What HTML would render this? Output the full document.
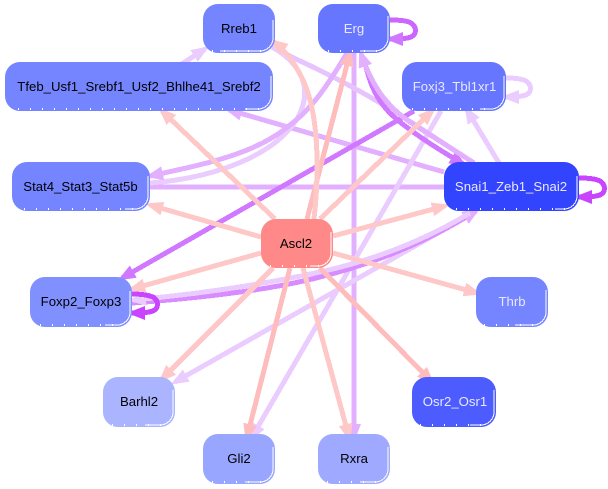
<!DOCTYPE html>
<html lang="en">
<head>
<meta charset="utf-8">
<title>Network diagram</title>
<style>
html,body{margin:0;padding:0;background:#fff;width:608px;height:489px;overflow:hidden}
svg{display:block}
text{font-family:"Liberation Sans",sans-serif;font-size:13.2px;text-anchor:middle}
.d{fill:#000}
.l{fill:#e8e8ff}
.e{fill:none;stroke-width:5;shape-rendering:crispEdges}
.w{fill:none;stroke:#fff;stroke-width:1;shape-rendering:crispEdges}
.t{fill:none;stroke:#fff;stroke-width:2;stroke-dasharray:1 11;shape-rendering:crispEdges}
</style>
</head>
<body>
<svg width="608" height="489" viewBox="0 0 608 489" xmlns="http://www.w3.org/2000/svg">
<defs>
<marker id="p1" markerUnits="userSpaceOnUse" markerWidth="20" markerHeight="16" refX="13" refY="8" orient="auto" viewBox="0 0 20 16"><polygon points="0,1 18,8 0,15" fill="#ffc8c8"/></marker>
<marker id="p2" markerUnits="userSpaceOnUse" markerWidth="20" markerHeight="16" refX="13" refY="8" orient="auto" viewBox="0 0 20 16"><polygon points="0,1 18,8 0,15" fill="#ffbcbc"/></marker>
<marker id="l1" markerUnits="userSpaceOnUse" markerWidth="20" markerHeight="16" refX="13" refY="8" orient="auto" viewBox="0 0 20 16"><polygon points="0,1 18,8 0,15" fill="#e2b0ff"/></marker>
<marker id="l2" markerUnits="userSpaceOnUse" markerWidth="20" markerHeight="16" refX="13" refY="8" orient="auto" viewBox="0 0 20 16"><polygon points="0,1 18,8 0,15" fill="#eaccff"/></marker>
<marker id="v1" markerUnits="userSpaceOnUse" markerWidth="20" markerHeight="16" refX="13" refY="8" orient="auto" viewBox="0 0 20 16"><polygon points="0,1 18,8 0,15" fill="#d078ff"/></marker>
<marker id="v2" markerUnits="userSpaceOnUse" markerWidth="20" markerHeight="16" refX="13" refY="8" orient="auto" viewBox="0 0 20 16"><polygon points="0,1 18,8 0,15" fill="#c944ff"/></marker>
</defs>

<!-- lavender / purple edges -->
<path class="e" stroke="#e2b0ff" marker-end="url(#l1)" d="M354 53V437"/>
<path class="e" stroke="#e2b0ff" d="M150 187H444"/>
<path class="e" stroke="#e2b0ff" marker-end="url(#l1)" d="M444 172L229 110"/>
<path class="e" stroke="#eaccff" marker-end="url(#l2)" d="M441 111L252 437"/>
<path class="e" stroke="#eaccff" marker-end="url(#l2)" d="M475 212L175 382"/>
<path class="e" stroke="#eaccff" marker-end="url(#l2)" d="M499 163L467 110"/>
<path class="e" stroke="#eaccff" marker-end="url(#l2)" d="M180 65L205 49"/>
<path class="e" stroke="#e8c4ff" d="M272 47C295 60 330 72 397 113L474 163"/>
<path class="e" stroke="#eaccff" d="M272 47C295 60 310 80 303 105C290 150 220 178 150 183"/>
<path class="e" stroke="#e2b0ff" marker-end="url(#l1)" d="M347 53C325 90 310 110 290 125C255 155 200 165 150 176"/>
<path class="e" stroke="#d078ff" marker-end="url(#v1)" d="M414 111L122 278"/>
<path class="e" stroke="#d078ff" marker-end="url(#v1)" d="M366 67C372 92 382 108 400 122C420 138 440 150 463 164"/>
<path class="e" stroke="#e2b0ff" marker-end="url(#l1)" d="M474 163L410 122C385 105 372 85 361 54"/>
<path class="e" stroke="#d88cff" marker-end="url(#l1)" d="M132 303C200 298 270 290 320 277C380 262 430 240 476 211"/>
<path class="e" stroke="#eaccff" marker-end="url(#l2)" d="M470 213C425 240 375 260 320 272C260 285 200 294 133 300"/>

<!-- self loops -->
<path class="e" stroke="#cc66ff" marker-end="url(#v1)" d="M390 20C400 20 408 21 411 23C417 27 417 34 411 37C406 39 398 39 390 39"/>
<path class="e" stroke="#eaccff" marker-end="url(#l2)" d="M506 78C516 78 522 79 526 81C532 85 532 92 526 95C520 97 514 97 506 97"/>
<path class="e" stroke="#c944ff" marker-end="url(#v2)" d="M579 178C590 178 596 179 600 181C606 185 606 192 600 195C594 197 588 197 579 197"/>
<path class="e" stroke="#c944ff" marker-end="url(#v2)" d="M132 294C142 294 148 295 153 297C159 301 159 308 153 311C147 313 141 313 132 313"/>

<!-- pink edges -->
<path class="e" stroke="#ffc8c8" marker-end="url(#p1)" d="M275 219L162 111"/>
<path class="e" stroke="#ffc8c8" marker-end="url(#p1)" d="M261 237L150 205"/>
<path class="e" stroke="#ffc8c8" marker-end="url(#p1)" d="M261 253L132 289"/>
<path class="e" stroke="#ffc8c8" marker-end="url(#p1)" d="M273 268L162 379"/>
<path class="e" stroke="#ffbcbc" marker-end="url(#p2)" d="M290 268L247 437"/>
<path class="e" stroke="#ffc8c8" marker-end="url(#p1)" d="M303 268L349 437"/>
<path class="e" stroke="#ffbcbc" marker-end="url(#p2)" d="M320 268L431 381"/>
<path class="e" stroke="#ffc8c8" marker-end="url(#p1)" d="M333 253L477 293"/>
<path class="e" stroke="#ffc8c8" marker-end="url(#p1)" d="M333 236L445 206"/>
<path class="e" stroke="#ffc8c8" marker-end="url(#p1)" d="M320 219L432 111"/>
<path class="e" stroke="#ffbcbc" marker-end="url(#p2)" d="M307 219L350 53"/>
<path class="e" stroke="#ffc8c8" marker-end="url(#p1)" d="M314 219C320 165 318 110 302 78C294 62 285 50 274 42"/>

<!-- nodes -->
<g>
<rect x="203" y="4" width="72" height="49" rx="15" fill="#7585ff"/>
<path class="w" d="M273 20V38A13 13 0 0 1 260 51H220"/><path class="t" d="M212 51H262"/>
<text class="d" x="239" y="33">Rreb1</text>

<rect x="318" y="4" width="72" height="49" rx="15" fill="#6676ff"/>
<path class="w" d="M388 16V38A13 13 0 0 1 375 51H360"/><path class="t" d="M328 51H378"/>
<text class="l" x="354" y="33">Erg</text>

<rect x="5" y="62" width="268" height="49" rx="15" fill="#7585ff"/>
<path class="w" d="M271 76V96A13 13 0 0 1 258 109H245"/><path class="t" d="M18 109H262"/>
<text class="d" x="139" y="91">Tfeb_Usf1_Srebf1_Usf2_Bhlhe41_Srebf2</text>

<rect x="402" y="62" width="104" height="49" rx="15" fill="#6676ff"/>
<path class="w" d="M504 76V96A13 13 0 0 1 491 109H480"/><path class="t" d="M412 109H494"/>
<text class="l" x="454.5" y="91">Foxj3_Tbl1xr1</text>

<rect x="12" y="162" width="138" height="49" rx="15" fill="#7585ff"/>
<path class="w" d="M148 176V196A13 13 0 0 1 135 209H125"/><path class="t" d="M24 209H138"/>
<text class="d" x="80.5" y="191">Stat4_Stat3_Stat5b</text>

<rect x="444" y="162" width="135" height="49" rx="15" fill="#3344ff"/>
<path class="w" d="M577 176V196A13 13 0 0 1 564 209H555"/><path class="t" d="M456 209H568"/>
<text class="l" x="511" y="191">Snai1_Zeb1_Snai2</text>

<rect x="261" y="219" width="72" height="49" rx="15" fill="#ff8888"/>
<path class="w" d="M331 232V253A13 13 0 0 1 318 266H310"/><path class="t" d="M270 266H322"/>
<text class="d" x="296" y="248">Ascl2</text>

<rect x="30" y="277" width="102" height="50" rx="15" fill="#8090ff"/>
<path class="w" d="M130 291V312A13 13 0 0 1 117 325H105"/><path class="t" d="M40 325H122"/>
<text class="d" x="81" y="306">Foxp2_Foxp3</text>

<rect x="476" y="277" width="72" height="50" rx="15" fill="#7585ff"/>
<path class="w" d="M546 290V312A13 13 0 0 1 533 325H515"/><path class="t" d="M484 325H538"/>
<text class="l" x="512" y="306">Thrb</text>

<rect x="103" y="377" width="72" height="50" rx="15" fill="#aab4ff"/>
<path class="w" d="M173 390V412A13 13 0 0 1 160 425H145"/><path class="t" d="M112 425H165"/>
<text class="d" x="139" y="406">Barhl2</text>

<rect x="412" y="377" width="84" height="50" rx="15" fill="#4d5cff"/>
<path class="w" d="M494 390V412A13 13 0 0 1 481 425H470"/><path class="t" d="M420 425H486"/>
<text class="l" x="455" y="406">Osr2_Osr1</text>

<rect x="203" y="434" width="72" height="50" rx="15" fill="#99a6ff"/>
<path class="w" d="M273 447V469A13 13 0 0 1 260 482H245"/><path class="t" d="M212 482H265"/>
<text class="d" x="239" y="463">Gli2</text>

<rect x="318" y="434" width="72" height="50" rx="15" fill="#9fa9ff"/>
<path class="w" d="M388 447V469A13 13 0 0 1 375 482H360"/><path class="t" d="M327 482H380"/>
<text class="d" x="354" y="463">Rxra</text>
</g>
</svg>
</body>
</html>
